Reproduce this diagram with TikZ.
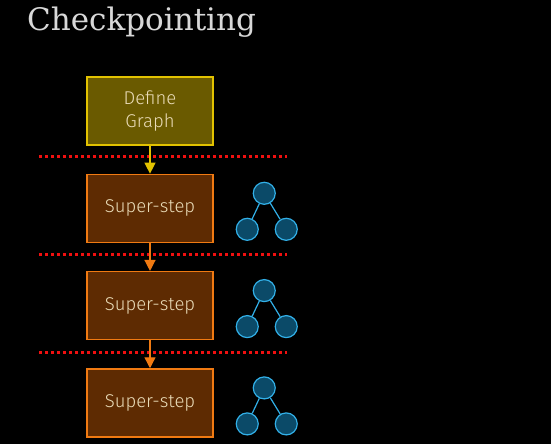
\documentclass[tikz,border=0pt]{standalone}
\usepackage{fontspec}
\setmainfont{Fira Sans}[UprightFont=* Light]
\newfontfamily\titlefont{DejaVu Serif}
\usetikzlibrary{arrows.meta,positioning,calc}
\definecolor{bgblack}{HTML}{000000}
\definecolor{titlegray}{HTML}{D8D8D8}
\definecolor{olivefill}{HTML}{6A5A00}
\definecolor{oliveline}{HTML}{E2C200}
\definecolor{rustfill}{HTML}{5E2B02}
\definecolor{rustline}{HTML}{F07A12}
\definecolor{boxtext}{HTML}{EADCB8}
\definecolor{cutred}{HTML}{F01010}
\definecolor{treefill}{HTML}{0B4A68}
\definecolor{treeline}{HTML}{32B0E8}
\tikzset{
    %Define standard arrow tip
    >={Triangle[width=11pt,length=11pt]},
    %Define style for boxes
    graphbox/.style={
           rectangle,
           draw=oliveline, line width=1.3pt,
           fill=olivefill,
           minimum width=126pt,
           minimum height=68pt,
           font=\fontsize{18.5}{23}\selectfont,
           text=boxtext,
           align=center},
    stepbox/.style={
           graphbox,
           draw=rustline,
           fill=rustfill},
    vertex/.style={
           circle,
           draw=treeline, line width=1.2pt,
           fill=treefill,
           minimum size=22pt,
           inner sep=0pt},
    % Define arrow style
    pil/.style={
           ->,
           line width=1.3pt},
    cut/.style={
           cutred, line width=3pt,
           dash pattern=on 3pt off 3pt}
}

\begin{document}
\begin{tikzpicture}[x=1pt,y=-1pt,node distance=28pt]
\fill[bgblack] (0,0) rectangle (551,444);
\useasboundingbox (0,0) rectangle (551,444);

\node[anchor=base west,text=titlegray,font=\titlefont\fontsize{31}{36}\selectfont,inner sep=0pt] (title) at (27,31) {Checkpointing};

\node[graphbox](g) at (150,111){Define\\[0pt]Graph};
\node[stepbox, below=of g](s1){Super-step};
\node[stepbox, below=of s1](s2){Super-step};
\node[stepbox, below=of s2](s3){Super-step};

% trees beside each super-step
\foreach \s in {1,2,3}{
  \node[vertex, right=39pt of s\s.east, yshift=15pt](t\s){};
  \node[vertex] (l\s) at ($(t\s)+(-17,36)$){};
  \node[vertex] (r\s) at ($(t\s)+(22,36)$){};
  \draw[treeline, line width=1.2pt] (t\s) -- (l\s) (t\s) -- (r\s);
}

% cut lines between the steps
\coordinate (c1) at ($(g.south)+(0,11)$);
\coordinate (c2) at ($(s1.south)+(0,12)$);
\coordinate (c3) at ($(s2.south)+(0,12)$);
\foreach \c in {1,2,3}
  \draw[cut] ($(c\c)+(-111,0)$) -- ($(c\c)+(137,0)$);

 \path[pil]
    (g) edge [oliveline] (s1)
    (s1) edge [rustline] (s2)
    (s2) edge [rustline] (s3);

\end{tikzpicture}
\end{document}
